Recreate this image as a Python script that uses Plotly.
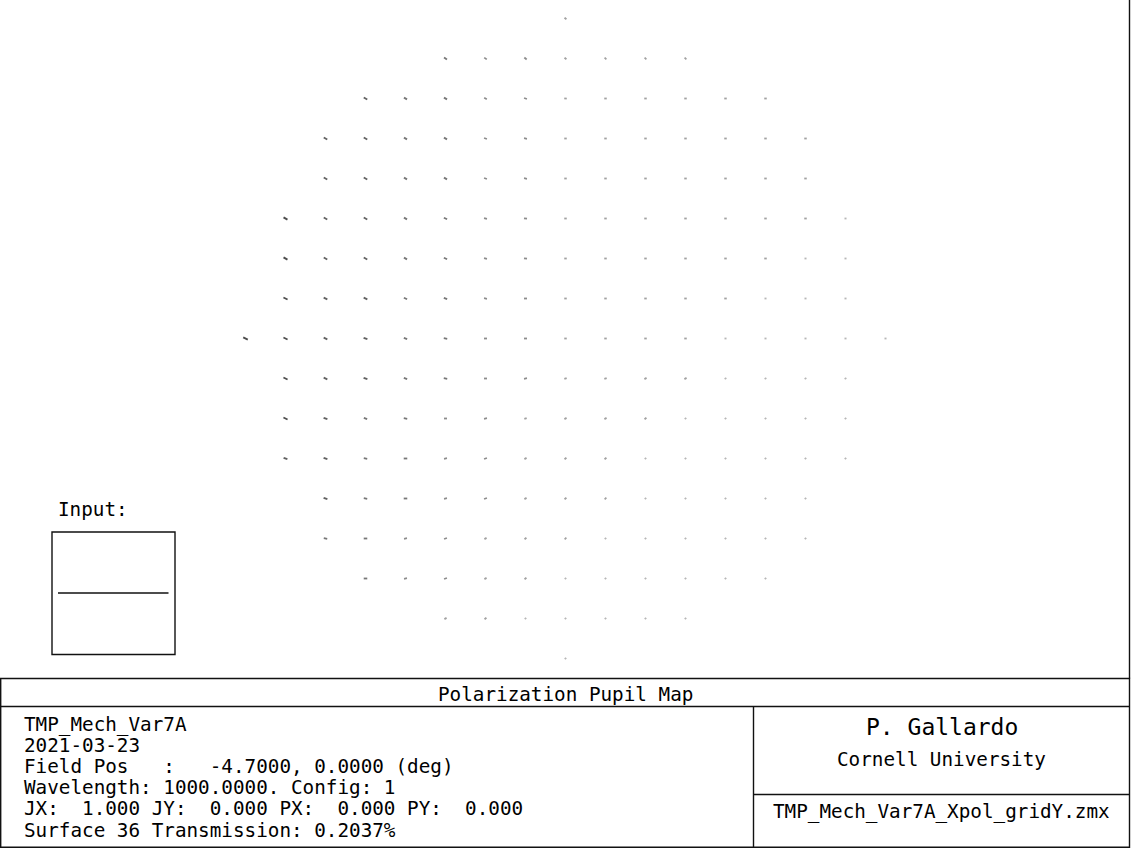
import plotly.graph_objects as go

W, H = 1131, 848

# ---- data: polarization pupil map (cross-pol ellipse residuals) ----
row_y = [1.0, 0.875, 0.75, 0.625, 0.5, 0.375, 0.25, 0.125, 0.0,
         -0.125, -0.25, -0.375, -0.5, -0.625, -0.75, -0.875, -1.0]

row_x = [
    [0.0],
    [-0.375, -0.25, -0.125, 0.0, 0.125, 0.25, 0.375],
    [-0.625, -0.5, -0.375, -0.25, -0.125, 0.0, 0.125, 0.25, 0.375, 0.5, 0.625],
    [-0.75, -0.625, -0.5, -0.375, -0.25, -0.125, 0.0, 0.125, 0.25, 0.375, 0.5, 0.625, 0.75],
    [-0.75, -0.625, -0.5, -0.375, -0.25, -0.125, 0.0, 0.125, 0.25, 0.375, 0.5, 0.625, 0.75],
    [-0.875, -0.75, -0.625, -0.5, -0.375, -0.25, -0.125, 0.0, 0.125, 0.25, 0.375, 0.5, 0.625, 0.75, 0.875],
    [-0.875, -0.75, -0.625, -0.5, -0.375, -0.25, -0.125, 0.0, 0.125, 0.25, 0.375, 0.5, 0.625, 0.75, 0.875],
    [-0.875, -0.75, -0.625, -0.5, -0.375, -0.25, -0.125, 0.0, 0.125, 0.25, 0.375, 0.5, 0.625, 0.75, 0.875],
    [-1.0, -0.875, -0.75, -0.625, -0.5, -0.375, -0.25, -0.125, 0.0, 0.125, 0.25, 0.375, 0.5, 0.625, 0.75, 0.875, 1.0],
    [-0.875, -0.75, -0.625, -0.5, -0.375, -0.25, -0.125, 0.0, 0.125, 0.25, 0.375, 0.5, 0.625, 0.75, 0.875],
    [-0.875, -0.75, -0.625, -0.5, -0.375, -0.25, -0.125, 0.0, 0.125, 0.25, 0.375, 0.5, 0.625, 0.75, 0.875],
    [-0.875, -0.75, -0.625, -0.5, -0.375, -0.25, -0.125, 0.0, 0.125, 0.25, 0.375, 0.5, 0.625, 0.75, 0.875],
    [-0.75, -0.625, -0.5, -0.375, -0.25, -0.125, 0.0, 0.125, 0.25, 0.375, 0.5, 0.625, 0.75],
    [-0.75, -0.625, -0.5, -0.375, -0.25, -0.125, 0.0, 0.125, 0.25, 0.375, 0.5, 0.625, 0.75],
    [-0.625, -0.5, -0.375, -0.25, -0.125, 0.0, 0.125, 0.25, 0.375, 0.5, 0.625],
    [-0.375, -0.25, -0.125, 0.0, 0.125, 0.25, 0.375],
    [0.0],
]

# ellipse major-axis size (relative) per point
row_mag = [
    [2.5],
    [3.5, 3, 3, 2.5, 2.5, 2.5, 2.5],
    [4, 3.5, 3.5, 3, 3, 2.5, 2.5, 2.5, 2.5, 2.5, 2.5],
    [4, 4, 3.5, 3.5, 3, 3, 2.5, 2.5, 2.5, 2.5, 2.5, 2.5, 2.5],
    [4, 4, 3.5, 3.5, 3, 3, 2.5, 2.5, 2.5, 2.5, 2.5, 2.5, 2.5],
    [4.5, 4, 4, 3.5, 3.5, 3, 3, 2.5, 2.5, 2.5, 2.5, 2.5, 2.5, 2.5, 2],
    [4.5, 4, 4, 3.5, 3.5, 3, 3, 2.5, 2.5, 2.5, 2.5, 2.5, 2.5, 2, 2],
    [4.5, 4, 4, 3.5, 3.5, 3, 3, 2.5, 2.5, 2.5, 2.5, 2.5, 2, 2, 2],
    [5, 4.5, 4, 4, 3.5, 3.5, 3, 3, 2.5, 2.5, 2.5, 2.5, 2, 2, 2, 2, 2],
    [4.5, 4, 4, 3.5, 3.5, 3, 3, 2.5, 2.5, 2.5, 2.5, 2, 2, 2, 2],
    [4.5, 4, 3.5, 3.5, 3, 3, 2.5, 2.5, 2.5, 2.5, 2, 2, 2, 2, 2],
    [4, 4, 3.5, 3.5, 3, 3, 2.5, 2.5, 2.5, 2, 2, 2, 2, 2, 2],
    [4, 3.5, 3.5, 3, 3, 2.5, 2.5, 2.5, 2, 2, 2, 2, 2],
    [3.5, 3.5, 3, 3, 2.5, 2.5, 2.5, 2, 2, 2, 2, 2, 2],
    [3.5, 3, 3, 2.5, 2.5, 2, 2, 2, 2, 2, 2],
    [2.5, 2.5, 2, 2, 2, 2, 2],
    [2],
]

# ellipse orientation (deg, clockwise from horizontal) per point
row_ang = [
    [40],
    [35, 35, 40, 40, 45, 45, 45],
    [30, 30, 30, 30, 20, 10, 0, 0, 0, 0, 0],
    [30, 30, 30, 30, 20, 10, 0, 0, 0, 0, 0, 0, 0],
    [30, 30, 30, 30, 20, 10, 0, 0, 0, 0, 0, 0, 0],
    [30, 30, 30, 30, 25, 15, 5, 0, 0, 0, 0, 0, 0, 0, 0],
    [30, 30, 30, 30, 25, 15, 5, 0, 0, 0, 0, 0, 0, 0, 0],
    [25, 25, 25, 25, 20, 10, 0, 0, 0, 0, 0, 0, 0, 0, 0],
    [25, 25, 25, 20, 20, 10, 0, 0, 0, 0, 0, 0, 0, 0, 0, 0, 0],
    [25, 25, 20, 20, 10, 0, -10, -20, -20, -30, -30, -30, -30, -30, -30],
    [25, 20, 20, 10, 0, -10, -20, -30, -30, -40, -40, -40, -40, -40, -40],
    [20, 20, 10, 0, -10, -20, -30, -40, -40, -45, -45, -45, -45, -45, -45],
    [20, 10, 0, -10, -20, -30, -40, -45, -45, -45, -45, -45, -45],
    [10, 0, -10, -20, -30, -40, -45, -45, -45, -45, -45, -45, -45],
    [0, -10, -20, -30, -40, -45, -45, -45, -45, -45, -45],
    [-30, -40, -45, -45, -45, -45, -45],
    [-45],
]

title_text = "Polarization Pupil Map"
info_lines = [
    "TMP_Mech_Var7A",
    "2021-03-23",
    "Field Pos   :   -4.7000, 0.0000 (deg)",
    "Wavelength: 1000.0000. Config: 1",
    "JX:  1.000 JY:  0.000 PX:  0.000 PY:  0.000",
    "Surface 36 Transmission: 0.2037%",
]
author = "P. Gallardo"
institution = "Cornell University"
filename = "TMP_Mech_Var7A_Xpol_gridY.zmx"

# ---- flatten ----
xs, ys, mags, angs = [], [], [], []
for yv, xr, mr, ar in zip(row_y, row_x, row_mag, row_ang):
    for xv, m, a in zip(xr, mr, ar):
        xs.append(xv)
        ys.append(yv)
        mags.append(m)
        angs.append(a)

# pixel geometry: centre at (565, 338), 320 px per pupil unit
CX, CY, S = 565.5, 338.5, 320.0
xr_ = [-CX / S, (W - CX) / S]
yr_ = [-(H - CY) / S, CY / S]

SIZE_SCALE = 0.72
fig = go.Figure()
fig.add_trace(go.Scatter(
    x=xs, y=ys, mode="markers",
    marker=dict(
        symbol="line-ew", size=[m * SIZE_SCALE for m in mags], angle=angs, color="black",
        line=dict(width=1.8, color=mags, colorscale=[[0, "#9a9a9a"], [1, "#000000"]],
                  cmin=2, cmax=4.5),
    ),
    hoverinfo="skip", showlegend=False,
))


def px(x):
    return x / W


def py(y):
    return 1 - y / H


LC = "#111111"
LW = 1.4
shapes = []


def line(x0, y0, x1, y1):
    shapes.append(dict(type="line", xref="paper", yref="paper",
                       x0=px(x0), y0=py(y0), x1=px(x1), y1=py(y1),
                       line=dict(color=LC, width=LW)))


def rect(x0, y0, x1, y1):
    shapes.append(dict(type="rect", xref="paper", yref="paper",
                       x0=px(x0), y0=py(y0), x1=px(x1), y1=py(y1),
                       line=dict(color=LC, width=LW)))


rect(0.7, 678.5, 1129.5, 847.3)
line(1129.5, 0, 1129.5, 678.5)
line(0.7, 706.5, 1129.5, 706.5)
line(753.5, 706.5, 753.5, 847.3)
line(753.5, 794.5, 1129.5, 794.5)
rect(52, 532, 175, 654.5)
line(58, 593, 168.5, 593)

FONT = "DejaVu Sans Mono"
annos = []


def txt(s, x, y, size=19.3, anchor="left"):
    annos.append(dict(text=s.replace(" ", "\u00a0"), xref="paper", yref="paper",
                      x=px(x), y=py(y), xanchor=anchor, yanchor="middle",
                      showarrow=False, font=dict(family=FONT, size=size, color="black")))


txt("Input:", 55.5, 510)
txt(title_text, 565, 694, anchor="center")
for i, s in enumerate(info_lines):
    txt(s, 21.5, 724 + i * 21.2)
txt(author, 941.5, 727, size=23, anchor="center")
txt(institution, 941.5, 759, anchor="center")
txt(filename, 941.5, 811, anchor="center")

fig.update_layout(
    width=W, height=H,
    margin=dict(l=0, r=0, t=0, b=0),
    paper_bgcolor="white", plot_bgcolor="white",
    xaxis=dict(range=xr_, visible=False, fixedrange=True),
    yaxis=dict(range=yr_, visible=False, fixedrange=True),
    shapes=shapes, annotations=annos,
)

fig.write_html("out.html")
